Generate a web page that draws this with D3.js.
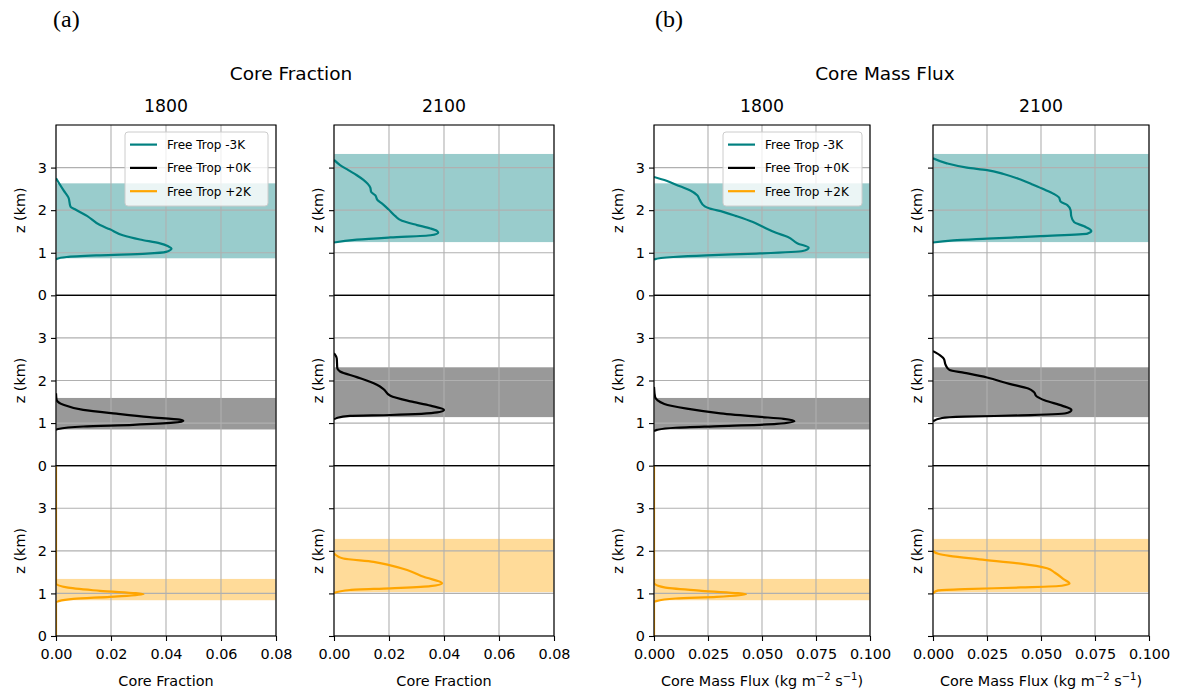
<!DOCTYPE html>
<html>
<head>
<meta charset="utf-8">
<script src="https://cdn.jsdelivr.net/npm/d3@7"></script>
<style>
  body { margin: 0; background: #fff; }
  svg { display: block; }
  text { font-family: "DejaVu Sans", sans-serif; fill: #000; }
</style>
</head>
<body>
<svg id="chart" width="1177" height="695"></svg>
<script>
// ---- data ------------------------------------------------------------------
const cases = ["Free Trop -3K", "Free Trop +0K", "Free Trop +2K"];
const caseColors = ["#008080", "#000000", "#FFA500"];
const times = ["1800", "2100"];

// cloud layer extent (km): [1800, 2100] for each case
const cloudBase = [[0.87, 1.25], [0.85, 1.14], [0.84, 1.03]];
const cloudTop  = [[2.63, 3.32], [1.59, 2.31], [1.34, 2.28]];

const zTicks = [0, 1, 2, 3];
const fracTicks = [0, 0.02, 0.04, 0.06, 0.08];
const fluxTicks = [0, 0.025, 0.05, 0.075, 0.1];

// core fraction profiles, [z (km), value]
const frac_m3K_1800 = [[0.85,0],[0.90,0.0039],[0.94,0.016],[0.98,0.033],[1.02,0.040],[1.10,0.042],[1.15,0.0408],[1.22,0.0378],[1.31,0.0305],[1.41,0.0243],[1.55,0.0196],[1.65,0.016],[1.86,0.0114],[2.02,0.0069],[2.08,0.0053],[2.30,0.0045],[2.47,0.0027],[2.75,0]];
const frac_m3K_2100 = [[1.24,0],[1.31,0.0083],[1.36,0.0205],[1.41,0.0351],[1.47,0.0379],[1.51,0.0375],[1.57,0.0351],[1.65,0.0302],[1.75,0.0247],[1.86,0.0223],[2.02,0.0198],[2.16,0.0174],[2.24,0.0158],[2.35,0.015],[2.43,0.0135],[2.53,0.0132],[2.71,0.0107],[2.82,0.0083],[2.94,0.0052],[3.06,0.0022],[3.18,0]];
const frac_p0K_1800 = [[0.84,0],[0.86,0.0008],[0.92,0.0099],[0.96,0.028],[1.01,0.0427],[1.05,0.0463],[1.08,0.045],[1.14,0.034],[1.22,0.022],[1.31,0.0099],[1.43,0.0027],[1.55,0.0002],[1.70,0]];
const frac_p0K_2100 = [[1.09,0],[1.12,0.001],[1.17,0.0058],[1.19,0.0205],[1.25,0.0375],[1.31,0.040],[1.41,0.0351],[1.51,0.0278],[1.64,0.0205],[1.80,0.018],[1.90,0.0156],[2.08,0.0083],[2.21,0.0022],[2.29,0.0012],[2.52,0.001],[2.64,0]];
const frac_p2K_1800 = [[0,0],[0.79,0],[0.82,0.001],[0.87,0.0063],[0.92,0.0196],[0.98,0.0318],[1.06,0.016],[1.14,0.0039],[1.24,0],[4,0]];
const frac_p2K_2100 = [[1.01,0],[1.08,0.0058],[1.12,0.0205],[1.17,0.035],[1.24,0.0393],[1.39,0.0326],[1.55,0.0266],[1.66,0.0205],[1.74,0.0144],[1.82,0.0034],[1.94,0]];

// core mass flux profiles (kg m-2 s-1), [z (km), value]
const flux_m3K_1800 = [[0.83,0],[0.85,0.0005],[0.90,0.0089],[0.94,0.0243],[0.98,0.0473],[1.04,0.0688],[1.12,0.0716],[1.22,0.0665],[1.37,0.062],[1.47,0.0565],[1.61,0.0504],[1.72,0.0458],[1.86,0.0381],[1.96,0.032],[2.04,0.0258],[2.09,0.0235],[2.24,0.0212],[2.35,0.020],[2.47,0.0166],[2.56,0.012],[2.69,0.0058],[2.78,0]];
const flux_m3K_2100 = [[1.24,0],[1.29,0.0094],[1.33,0.025],[1.39,0.0498],[1.45,0.0715],[1.51,0.0733],[1.62,0.070],[1.72,0.0653],[1.86,0.064],[2.00,0.0637],[2.12,0.0622],[2.20,0.0591],[2.30,0.0583],[2.38,0.056],[2.49,0.0513],[2.59,0.0467],[2.72,0.0405],[2.85,0.0327],[2.94,0.025],[3.00,0.0157],[3.10,0.0064],[3.22,0]];
const flux_p0K_1800 = [[0.81,0],[0.84,0.0014],[0.89,0.010],[0.93,0.0308],[0.98,0.0567],[1.04,0.065],[1.10,0.060],[1.15,0.048],[1.23,0.0308],[1.34,0.0152],[1.45,0.0048],[1.61,0.0005],[1.85,0]];
const flux_p0K_2100 = [[1.04,0],[1.12,0.0042],[1.15,0.0146],[1.18,0.0406],[1.23,0.0615],[1.31,0.0641],[1.41,0.0597],[1.53,0.0519],[1.63,0.0479],[1.73,0.0467],[1.81,0.0441],[1.92,0.0354],[2.07,0.025],[2.18,0.0146],[2.25,0.0076],[2.36,0.0059],[2.51,0.005],[2.59,0.0033],[2.69,0]];
const flux_p2K_1800 = [[0,0],[0.80,0],[0.82,0.001],[0.88,0.010],[0.92,0.029],[0.98,0.0426],[1.06,0.022],[1.14,0.0048],[1.25,0],[4,0]];
const flux_p2K_2100 = [[1.00,0],[1.07,0.0024],[1.10,0.0146],[1.14,0.0406],[1.18,0.0597],[1.23,0.0632],[1.33,0.0606],[1.49,0.0563],[1.59,0.0528],[1.70,0.0406],[1.80,0.0215],[1.88,0.0076],[1.93,0.0024],[2.00,0]];

const coreFraction = [[frac_m3K_1800, frac_m3K_2100], [frac_p0K_1800, frac_p0K_2100], [frac_p2K_1800, frac_p2K_2100]];
const coreMassFlux = [[flux_m3K_1800, flux_m3K_2100], [flux_p0K_1800, flux_p0K_2100], [flux_p2K_1800, flux_p2K_2100]];

// ---- layout ----------------------------------------------------------------
const svg = d3.select("#chart");
const top0 = 125, rowH = 170.33;
const figures = [
  { tag: "(a)", tagX: 53, title: "Core Fraction", titleX: 291, colX: [56, 334], colW: 220,
    xMax: 0.08, ticks: fracTicks, fmt: d3.format(".2f"), xlabel: ["Core Fraction"], data: coreFraction, legendW: 143 },
  { tag: "(b)", tagX: 655, title: "Core Mass Flux", titleX: 885, colX: [654, 933], colW: 216,
    xMax: 0.1, ticks: fluxTicks, fmt: d3.format(".3f"), xlabel: null, data: coreMassFlux, legendW: 139 }
];

const defs = svg.append("defs");
let clipId = 0;

figures.forEach((fig) => {
  const g = svg.append("g");

  g.append("text").attr("x", fig.tagX).attr("y", 27)
    .style("font-family", "'Liberation Serif', 'DejaVu Serif', serif")
    .style("font-size", "24px").text(fig.tag);

  g.append("text").attr("x", fig.titleX).attr("y", 80).attr("text-anchor", "middle")
    .style("font-size", "18.5px").text(fig.title);

  times.forEach((t, ci) => {
    const x0 = fig.colX[ci], w = fig.colW;
    g.append("text").attr("x", x0 + w / 2).attr("y", 112).attr("text-anchor", "middle")
      .style("font-size", "17.3px").text(t);

    const x = d3.scaleLinear().domain([0, fig.xMax]).range([x0, x0 + w]);

    cases.forEach((cs, ri) => {
      const y0 = top0 + ri * rowH;
      const y = d3.scaleLinear().domain([0, 4]).range([y0 + rowH, y0]);
      const p = g.append("g");

      const id = "clip" + (clipId++);
      defs.append("clipPath").attr("id", id).append("rect")
        .attr("x", x0).attr("y", y0).attr("width", w).attr("height", rowH);

      // cloud layer band
      p.append("rect")
        .attr("x", x0).attr("width", w)
        .attr("y", y(cloudTop[ri][ci]))
        .attr("height", y(cloudBase[ri][ci]) - y(cloudTop[ri][ci]))
        .attr("fill", caseColors[ri]).attr("fill-opacity", 0.4);

      // grid
      const grid = p.append("g").attr("stroke", "#b0b0b0").attr("stroke-width", 1.1);
      fig.ticks.forEach(v => grid.append("line").attr("x1", x(v)).attr("x2", x(v)).attr("y1", y0).attr("y2", y0 + rowH));
      zTicks.forEach(v => grid.append("line").attr("x1", x0).attr("x2", x0 + w).attr("y1", y(v)).attr("y2", y(v)));

      // profile
      const line = d3.line().x(d => x(d[1])).y(d => y(d[0])).curve(d3.curveMonotoneY);
      p.append("path").datum(fig.data[ri][ci])
        .attr("clip-path", `url(#${id})`)
        .attr("d", line).attr("fill", "none")
        .attr("stroke", caseColors[ri]).attr("stroke-width", 2.2)
        .attr("stroke-linejoin", "round");

      // y axis
      const yAxis = d3.axisLeft(y).tickValues(zTicks).tickSize(5).tickPadding(4)
        .tickFormat(ci === 0 ? d3.format("d") : () => "");
      const ya = p.append("g").attr("transform", `translate(${x0},0)`).call(yAxis);
      ya.select(".domain").remove();
      ya.selectAll("line").attr("stroke", "#000").attr("stroke-width", 1.1);
      ya.selectAll("text").style("font-size", "14.4px").style("font-family", "'DejaVu Sans', sans-serif");

      p.append("text")
        .attr("transform", `translate(${ci === 0 ? x0 - 31 : x0 - 11},${y0 + rowH / 2}) rotate(-90)`)
        .attr("text-anchor", "middle").style("font-size", "14.4px").text("z (km)");

      // bottom row x axis
      if (ri === cases.length - 1) {
        const xAxis = d3.axisBottom(x).tickValues(fig.ticks).tickSize(5).tickPadding(8).tickFormat(fig.fmt);
        const xa = p.append("g").attr("transform", `translate(0,${y0 + rowH})`).call(xAxis);
        xa.select(".domain").remove();
        xa.selectAll("line").attr("stroke", "#000").attr("stroke-width", 1.1);
        xa.selectAll("text").style("font-size", "14.4px").style("font-family", "'DejaVu Sans', sans-serif");

        const xl = p.append("text").attr("x", x0 + w / 2).attr("y", 686)
          .attr("text-anchor", "middle").style("font-size", "14.4px");
        if (fig.xlabel) {
          xl.text(fig.xlabel[0]);
        } else {
          xl.append("tspan").text("Core Mass Flux (kg m");
          xl.append("tspan").attr("dy", -6).style("font-size", "10px").text("\u22122");
          xl.append("tspan").attr("dy", 6).text(" s");
          xl.append("tspan").attr("dy", -6).style("font-size", "10px").text("\u22121");
          xl.append("tspan").attr("dy", 6).text(")");
        }
      }

      // frame
      p.append("rect").attr("x", x0).attr("y", y0).attr("width", w).attr("height", rowH)
        .attr("fill", "none").attr("stroke", "#000").attr("stroke-width", 1.1);

      // legend in the first panel
      if (ri === 0 && ci === 0) {
        const lw = fig.legendW, lx = x0 + w - 8 - lw, ly = y0 + 7;
        const lg = p.append("g");
        lg.append("rect").attr("x", lx).attr("y", ly).attr("width", lw).attr("height", 74)
          .attr("rx", 3).attr("fill", "#fff").attr("fill-opacity", 0.8)
          .attr("stroke", "#cccccc").attr("stroke-width", 1);
        cases.forEach((c, k) => {
          const yy = ly + 12.6 + k * 23.3;
          lg.append("line").attr("x1", lx + 5).attr("x2", lx + 32).attr("y1", yy).attr("y2", yy)
            .attr("stroke", caseColors[k]).attr("stroke-width", 2.2);
          lg.append("text").attr("x", lx + 42).attr("y", yy + 4.3).style("font-size", "12px").text(c);
        });
      }
    });
  });
});
</script>
</body>
</html>
